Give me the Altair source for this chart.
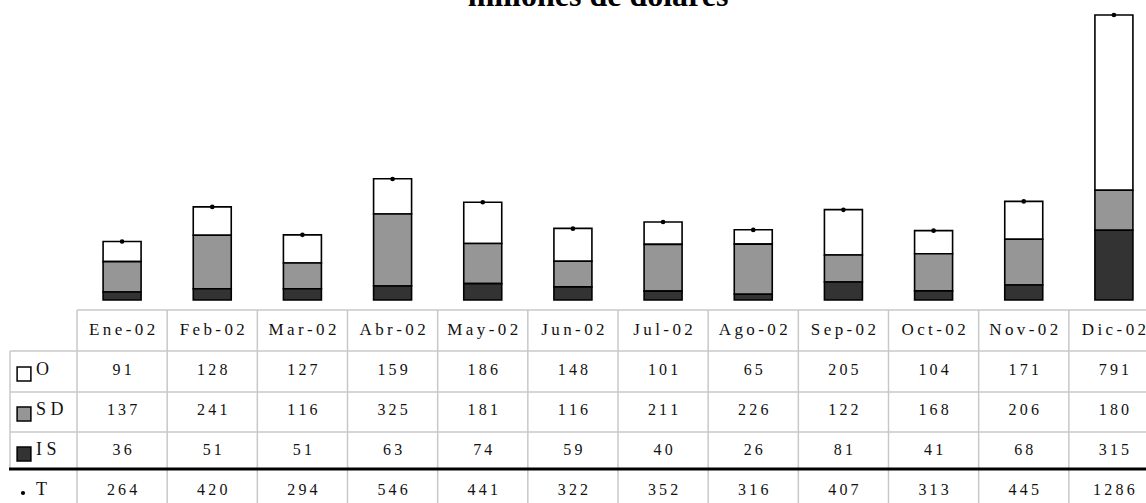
import altair as alt
import pandas as pd

# Monthly values, millions of dollars
months = ["Ene-02", "Feb-02", "Mar-02", "Abr-02", "May-02", "Jun-02",
          "Jul-02", "Ago-02", "Sep-02", "Oct-02", "Nov-02", "Dic-02"]
o_vals = [91, 128, 127, 159, 186, 148, 101, 65, 205, 104, 171, 791]
sd_vals = [137, 241, 116, 325, 181, 116, 211, 226, 122, 168, 206, 180]
is_vals = [36, 51, 51, 63, 74, 59, 40, 26, 81, 41, 68, 315]
t_vals = [264, 420, 294, 546, 441, 322, 352, 316, 407, 313, 445, 1286]

series_names = ["O", "SD", "IS"]
series_labels = {"O": "O", "SD": "S D", "IS": "I S", "T": "T"}
series_fill = {"O": "#ffffff", "SD": "#969696", "IS": "#333333"}
stack_order = {"IS": 0, "SD": 1, "O": 2}

FONT = "Liberation Serif"
W, H = 1146, 503


def spaced(s):
    # widen the tracking with thin spaces between characters
    return "\u2009".join(str(s))


# stacked-bar table
bar_rows = []
for name, vals in [("O", o_vals), ("SD", sd_vals), ("IS", is_vals)]:
    for m, v in zip(months, vals):
        bar_rows.append({"month": m, "serie": name, "value": v,
                         "ord": stack_order[name], "fill": series_fill[name]})
bars_df = pd.DataFrame(bar_rows)
tot_df = pd.DataFrame({"month": months, "total": t_vals})

# data table cells
rows = ["hdr", "O", "SD", "IS", "T"]
cell_rows = []
for m in months:
    cell_rows.append({"month": m, "row": "hdr", "label": spaced(m), "size": "h"})
for name, vals in [("O", o_vals), ("SD", sd_vals), ("IS", is_vals), ("T", t_vals)]:
    for m, v in zip(months, vals):
        cell_rows.append({"month": m, "row": name, "label": spaced(v), "size": "v"})
cells_df = pd.DataFrame(cell_rows)

legend_df = pd.DataFrame({
    "row": ["O", "SD", "IS", "T"],
    "label": [series_labels[r] for r in ["O", "SD", "IS", "T"]],
})
swatch_df = pd.DataFrame({"row": series_names,
                          "fill": [series_fill[s] for s in series_names]})

xscale = alt.Scale(domain=months, range=[77, 1159], paddingInner=0, paddingOuter=0)
yscale = alt.Scale(domain=[0, 1286], range=[300, 15], nice=False, zero=True)
rowscale = alt.Scale(type="point", domain=rows, range=[310, 510], padding=0.5)

x_enc = alt.X("month:N", scale=xscale, axis=None, sort=months)

bars = alt.Chart(bars_df).mark_bar(size=38, stroke="#000000", strokeWidth=1.6).encode(
    x=x_enc,
    y=alt.Y("value:Q", stack="zero", scale=yscale, axis=None),
    fill=alt.Fill("fill:N", scale=None),
    order=alt.Order("ord:Q", sort="ascending"),
)

dots = alt.Chart(tot_df).mark_circle(size=22, color="#000000", opacity=1).encode(
    x=x_enc,
    y=alt.Y("total:Q", scale=yscale, axis=None),
)

# table grid
vlines = alt.Chart(pd.DataFrame({"month": months})).mark_rule(
    color="#c8c8c8", strokeWidth=1.5
).encode(
    x=alt.X("month:N", scale=xscale, axis=None, sort=months, bandPosition=0),
    y=alt.value(310), y2=alt.value(H),
)
left_vline = alt.Chart(pd.DataFrame({"k": [0]})).mark_rule(
    color="#c8c8c8", strokeWidth=1.5
).encode(x=alt.value(10), y=alt.value(351), y2=alt.value(469))

hline_top = alt.Chart(pd.DataFrame({"k": [0]})).mark_rule(
    color="#c8c8c8", strokeWidth=1.5
).encode(x=alt.value(77), x2=alt.value(W), y=alt.value(310))
hlines = alt.Chart(pd.DataFrame({"yp": [351, 392, 432]})).mark_rule(
    color="#c8c8c8", strokeWidth=1.5
).encode(x=alt.value(10), x2=alt.value(W), y=alt.Y("yp:Q", scale=None, axis=None))
thick = alt.Chart(pd.DataFrame({"k": [0]})).mark_rule(
    color="#000000", strokeWidth=3
).encode(x=alt.value(9), x2=alt.value(W), y=alt.value(469))

header_text = alt.Chart(cells_df[cells_df["size"] == "h"]).mark_text(
    font=FONT, fontSize=17, color="#111111", baseline="middle", align="center"
).encode(
    x=x_enc,
    y=alt.Y("row:N", scale=rowscale, axis=None),
    text="label:N",
)
value_text = alt.Chart(cells_df[cells_df["size"] == "v"]).mark_text(
    font=FONT, fontSize=16, color="#111111", baseline="middle", align="center"
).encode(
    x=x_enc,
    y=alt.Y("row:N", scale=rowscale, axis=None),
    text="label:N",
)

legend_text = alt.Chart(legend_df).mark_text(
    font=FONT, fontSize=18, color="#111111", baseline="middle", align="left"
).encode(
    x=alt.value(36),
    y=alt.Y("row:N", scale=rowscale, axis=None),
    text="label:N",
)
swatches = alt.Chart(swatch_df).mark_square(
    size=190, stroke="#000000", strokeWidth=1.5, opacity=1, yOffset=4
).encode(
    x=alt.value(24),
    y=alt.Y("row:N", scale=rowscale, axis=None),
    fill=alt.Fill("fill:N", scale=None),
)
t_dot = alt.Chart(pd.DataFrame({"row": ["T"]})).mark_circle(
    size=18, color="#000000", opacity=1, yOffset=3
).encode(
    x=alt.value(23),
    y=alt.Y("row:N", scale=rowscale, axis=None),
)

title = alt.Chart(pd.DataFrame({"t": ["millones de dolares"]})).mark_text(
    font=FONT, fontSize=32, fontWeight="bold", color="#000000",
    baseline="alphabetic", align="center"
).encode(x=alt.value(598), y=alt.value(6), text="t:N")

chart = alt.layer(
    vlines, left_vline, hline_top, hlines, thick,
    bars, dots,
    header_text, value_text, legend_text, swatches, t_dot,
    title,
).resolve_scale(y="independent").properties(
    width=W, height=H, padding=0,
    autosize=alt.AutoSizeParams(type="none"),
    background="#ffffff",
).configure_view(stroke=None)

chart.save("out.html", embed_options={"renderer": "svg", "actions": False})
